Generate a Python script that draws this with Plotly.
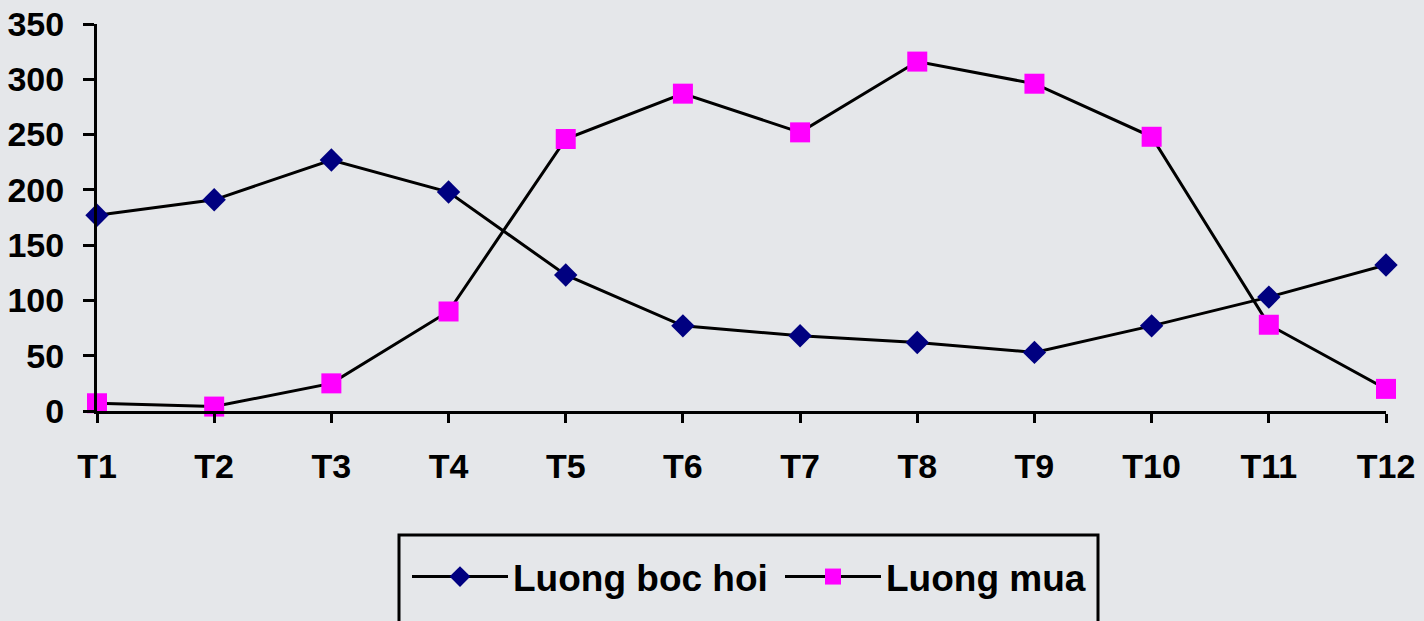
import plotly.graph_objects as go

# Monthly evaporation vs. rainfall
months = ["T1", "T2", "T3", "T4", "T5", "T6", "T7", "T8", "T9", "T10", "T11", "T12"]
luong_boc_hoi = [177, 191, 227, 198, 123, 77, 68, 62, 53, 77, 103, 132]
luong_mua = [7, 4, 25, 90, 246, 287, 252, 316, 296, 248, 78, 20]
y_ticks = [0, 50, 100, 150, 200, 250, 300, 350]

FONT = "Liberation Sans, Arial, sans-serif"
BG = "#e5e7ea"

fig = go.Figure()
fig.add_trace(go.Scatter(
    x=months, y=luong_boc_hoi, name="Luong boc hoi",
    mode="lines+markers", cliponaxis=False,
    line=dict(color="black", width=3),
    marker=dict(symbol="diamond", size=18, color="#000080", line=dict(width=0)),
))
fig.add_trace(go.Scatter(
    x=months, y=luong_mua, name="Luong mua",
    mode="lines+markers", cliponaxis=False,
    line=dict(color="black", width=3),
    marker=dict(symbol="square", size=20, color="#ff00ff", line=dict(width=0)),
))

L, R, T, B = 97, 38, 24, 210
W, H = 1424, 621
pw, ph = W - L - R, H - T - B


def px_x(p):
    return (p - L) / pw


def px_y(p):
    return (H - B - p) / ph


fig.update_layout(
    template="none",
    width=W, height=H,
    margin=dict(l=L, r=R, t=T, b=B, pad=0, autoexpand=False),
    paper_bgcolor=BG, plot_bgcolor=BG,
    font=dict(family=FONT, color="black"),
    showlegend=True,
    legend=dict(
        orientation="h",
        x=px_x(407), xanchor="left",
        y=px_y(546), yanchor="top",
        bgcolor="rgba(0,0,0,0)", borderwidth=0,
        font=dict(family=FONT, size=37, color="black", weight="bold"),
        itemwidth=96, entrywidth=262, entrywidthmode="pixels",
        traceorder="normal",
    ),
    xaxis=dict(
        type="category", range=[0, 11], automargin=False,
        showgrid=False, zeroline=False,
        showline=True, linecolor="black", linewidth=3,
        ticks="outside", ticklen=9, tickwidth=3, tickcolor="black",
        ticklabelstandoff=14,
        tickfont=dict(family=FONT, size=34, color="black", weight="bold"),
    ),
    yaxis=dict(
        range=[0, 350], tickvals=y_ticks, automargin=False,
        showgrid=False, zeroline=False,
        showline=True, linecolor="black", linewidth=3,
        ticks="outside", ticklen=11, tickwidth=3, tickcolor="black",
        ticklabelstandoff=12,
        tickfont=dict(family=FONT, size=34, color="black", weight="bold"),
    ),
    shapes=[dict(
        type="rect", xref="paper", yref="paper",
        x0=px_x(399), x1=px_x(1098), y0=px_y(535), y1=px_y(660),
        line=dict(color="black", width=3), fillcolor="rgba(0,0,0,0)",
        layer="below",
    )],
)

fig.write_html("out.html")
